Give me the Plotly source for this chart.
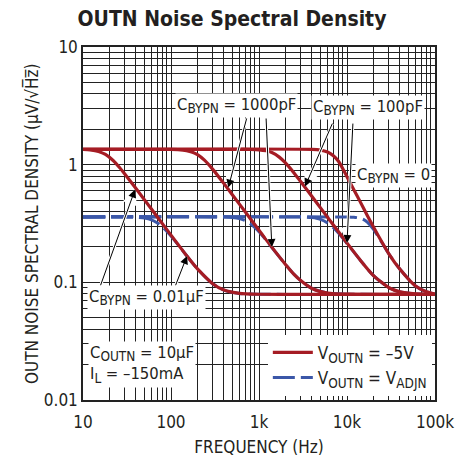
import plotly.graph_objects as go

# ---------------- data ----------------
# red curves: V_OUTN = -5V
f_r1 = [10, 12, 15, 18, 22, 26, 30, 40, 50, 70, 100, 150, 200, 300, 400, 600, 1000, 2000, 100000]
v_r1 = [1.345, 1.334, 1.296, 1.222, 1.084, 0.946, 0.829, 0.627, 0.502, 0.359, 0.252, 0.169, 0.130,
        0.0969, 0.0859, 0.0805, 0.0792, 0.079, 0.079]

f_r2 = [10, 100, 120, 150, 175, 200, 240, 300, 400, 500, 700, 1000, 1500, 2000, 2500, 3000, 4000,
        6000, 10000, 100000]
v_r2 = [1.35, 1.347, 1.341, 1.318, 1.278, 1.217, 1.092, 0.908, 0.690, 0.553, 0.396, 0.277, 0.186,
        0.142, 0.117, 0.103, 0.0887, 0.0812, 0.0793, 0.079]

f_r3 = [10, 600, 800, 1000, 1200, 1400, 1700, 2000, 2500, 3000, 4000, 5000, 7000, 10000, 14000,
        20000, 30000, 40000, 60000, 100000]
v_r3 = [1.35, 1.349, 1.346, 1.337, 1.312, 1.267, 1.159, 1.034, 0.850, 0.713, 0.536, 0.429, 0.307,
        0.216, 0.156, 0.114, 0.0899, 0.0829, 0.0798, 0.0791]

f_r4 = [10, 4000, 5000, 6000, 7000, 8000, 9000, 10000, 12000, 14000, 17000, 20000, 25000, 30000,
        40000, 60000, 80000, 100000]
v_r4 = [1.35, 1.35, 1.33, 1.28, 1.19, 1.07, 0.92, 0.79, 0.61, 0.49, 0.37, 0.295, 0.219, 0.174,
        0.129, 0.093, 0.083, 0.0795]

# blue curves: V_OUTN = V_ADJN
f_b1 = [10, 30, 40, 50, 60, 70, 80, 90, 100, 120, 150, 200, 300, 400, 600, 1000, 2000, 100000]
v_b1 = [0.36, 0.3596, 0.358, 0.352, 0.340, 0.320, 0.295, 0.270, 0.247, 0.209, 0.169, 0.130,
        0.0969, 0.0859, 0.0805, 0.0792, 0.079, 0.079]

f_b2 = [10, 300, 400, 500, 600, 700, 800, 900, 1000, 1200, 1500, 2000, 2500, 3000, 4000, 6000,
        10000, 100000]
v_b2 = [0.36, 0.3598, 0.3588, 0.3556, 0.348, 0.334, 0.314, 0.291, 0.269, 0.229, 0.185, 0.142,
        0.117, 0.103, 0.0887, 0.0812, 0.0793, 0.079]

f_b3 = [10, 2500, 3000, 3500, 4000, 4500, 5000, 6000, 7000, 8000, 10000, 14000, 20000, 30000,
        40000, 60000, 100000]
v_b3 = [0.36, 0.3597, 0.359, 0.3576, 0.3548, 0.350, 0.3425, 0.320, 0.291, 0.262, 0.214, 0.156,
        0.114, 0.0899, 0.0829, 0.0798, 0.0791]

f_b4 = [10, 9000, 10000, 12000, 14000, 15500, 17000, 20000, 25000, 30000, 40000, 60000, 80000,
        100000]
v_b4 = [0.36, 0.3598, 0.3595, 0.3575, 0.351, 0.341, 0.325, 0.282, 0.217, 0.174, 0.129, 0.093,
        0.083, 0.0795]

x_tickvals = [m * 10 ** e for e in range(1, 5) for m in range(1, 10)] + [100000]
x_names = {10: "10", 100: "100", 1000: "1k", 10000: "10k", 100000: "100k"}
x_ticktext = [x_names.get(v, "") for v in x_tickvals]
y_tickvals = [m * 10.0 ** e for e in range(-2, 1) for m in range(1, 10)] + [10]
y_names = {0.01: "0.01", 0.1: "0.1", 1.0: "1", 10.0: "10"}
y_ticktext = [y_names.get(round(v, 6), "") for v in y_tickvals]

SUB = "<sub><span style='font-size:13.5px'>{}</span></sub>"
legend_red = "V" + SUB.format("OUTN") + " = –5V"
legend_blue = "V" + SUB.format("OUTN") + " = V" + SUB.format("ADJN")

# ---------------- styles ----------------
RED = "#a51c24"
BLUE = "#3b57a8"
TXT = "#231f20"
FONT = "DejaVu Sans Condensed, Liberation Sans Narrow, Arial Narrow, sans-serif"

fig = go.Figure()

blue_sets = [(f_b1, v_b1), (f_b2, v_b2), (f_b3, v_b3), (f_b4, v_b4)]
red_sets = [(f_r1, v_r1), (f_r2, v_r2), (f_r3, v_r3), (f_r4, v_r4)]

for i, (fx, vy) in enumerate(blue_sets):
    fig.add_trace(go.Scatter(
        x=fx, y=vy, mode="lines",
        line=dict(color=BLUE, width=3, dash="22px,6px", shape="spline", smoothing=0.6),
        name=legend_blue, showlegend=(i == 0), legendrank=2, hoverinfo="skip"))

for i, (fx, vy) in enumerate(red_sets):
    fig.add_trace(go.Scatter(
        x=fx, y=vy, mode="lines",
        line=dict(color=RED, width=3.2, shape="spline", smoothing=0.6),
        name=legend_red, showlegend=(i == 0), legendrank=1, hoverinfo="skip"))

# ---------------- annotations ----------------
ann = []
label_font = dict(family=FONT, size=16.5, color=TXT)


def label(text, lx, ly, xanchor="center", align="center"):
    ann.append(dict(x=lx, y=ly, xref="x", yref="y", text=text, showarrow=False,
                    font=label_font, bgcolor="white", borderpad=1,
                    xanchor=xanchor, align=align))


def arrow(hx, hy, tx, ty):
    for col, w in (("white", 3), ("black", 1)):
        ann.append(dict(x=hx, y=hy, ax=tx, ay=ty, xref="x", yref="y",
                        axref="x", ayref="y", text="", showarrow=True,
                        arrowhead=2, arrowsize=1.6 if col == "black" else 1.0,
                        arrowwidth=w, arrowcolor=col, standoff=0))


# arrows (head, tail) in log10 axis units
arrow(2.651, -0.195, 2.864, 0.405)
arrow(3.146, -0.700, 3.080, 0.405)
arrow(3.523, -0.185, 3.841, 0.362)
arrow(4.000, -0.665, 4.068, 0.362)
arrow(1.591, -0.212, 1.193, -1.039)
arrow(2.182, -0.776, 2.045, -1.039)

label("C" + SUB.format("BYPN") + " = 1000pF", 2.74, 0.499)
label("C" + SUB.format("BYPN") + " = 100pF", 4.235, 0.49)
label("C" + SUB.format("BYPN") + " = 0", 4.534, -0.096)
label("C" + SUB.format("BYPN") + " = 0.01µF", 1.727, -1.133)
label("C" + SUB.format("OUTN") + " = 10µF<br>I" + SUB.format("L") + " = –150mA",
      1.06, -1.70, xanchor="left", align="left")

# y-axis title placed as rotated text
ann.append(dict(x=-0.146, y=0.5, xref="paper", yref="paper", showarrow=False,
                text="OUTN NOISE SPECTRAL DENSITY (µV/√H̅z̅)", textangle=-90,
                xanchor="center", yanchor="middle",
                font=dict(family=FONT, size=17, color=TXT)))

fig.update_layout(
    width=460, height=450,
    margin=dict(l=75, r=33, t=39, b=58, autoexpand=False),
    paper_bgcolor="white", plot_bgcolor="white",
    font=dict(family=FONT, color=TXT, size=15),
    title=dict(text="<b>OUTN Noise Spectral Density</b>", x=0.487, xanchor="center",
               y=0.992, yanchor="top", font=dict(family=FONT, size=21, color=TXT)),
    showlegend=True,
    legend=dict(x=0.991, y=0.012, xanchor="right", yanchor="bottom",
                bgcolor="white", borderwidth=0, font=dict(family=FONT, size=17, color=TXT),
                tracegroupgap=0, itemwidth=40),
    annotations=ann,
)

fig.update_xaxes(type="log", range=[1, 5], tickvals=x_tickvals, ticktext=x_ticktext,
                 automargin=False,
                 showgrid=True, gridcolor="#222", gridwidth=1, ticks="", ticklen=0,
                 ticklabelstandoff=6,
                 showline=True, linecolor="#222", linewidth=1.5, mirror=True,
                 tickfont=dict(family=FONT, size=17, color=TXT),
                 title=dict(text="FREQUENCY (Hz)", font=dict(family=FONT, size=17, color=TXT), standoff=10),
                 zeroline=False)
fig.update_yaxes(type="log", range=[-2, 1], tickvals=y_tickvals, ticktext=y_ticktext,
                 automargin=False,
                 showgrid=True, gridcolor="#222", gridwidth=1, ticks="", ticklen=0,
                 showline=True, linecolor="#222", linewidth=1.5, mirror=True,
                 tickfont=dict(family=FONT, size=17, color=TXT),
                 zeroline=False)

fig.write_html("out.html")
